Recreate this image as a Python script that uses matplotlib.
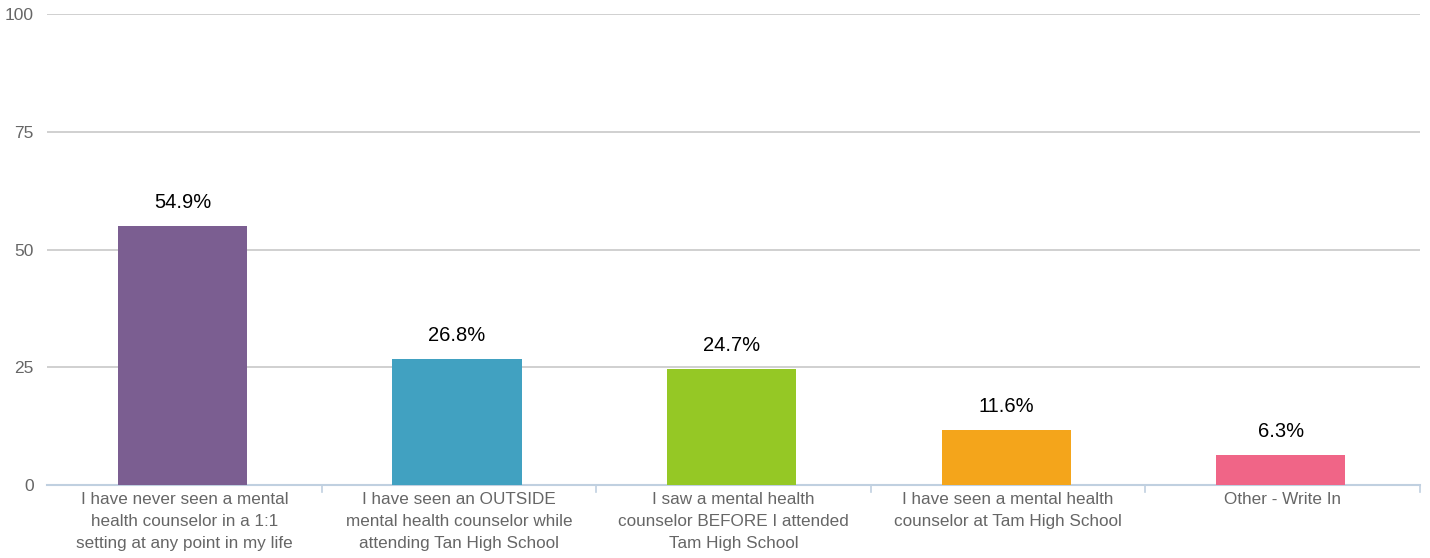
import matplotlib.pyplot as plt

# data
categories = [
    "I have never seen a mental\nhealth counselor in a 1:1\nsetting at any point in my life",
    "I have seen an OUTSIDE\nmental health counselor while\nattending Tan High School",
    "I saw a mental health\ncounselor BEFORE I attended\nTam High School",
    "I have seen a mental health\ncounselor at Tam High School",
    "Other - Write In",
]
values = [54.9, 26.8, 24.7, 11.6, 6.3]
colors = ["#7b5e91", "#41a1c1", "#95c825", "#f4a51b", "#f06587"]
yticks = [0, 25, 50, 75, 100]

plt.rcParams['font.family'] = ['Liberation Sans', 'DejaVu Sans']

fig = plt.figure(figsize=(14.3, 5.58), dpi=100)
ax = fig.add_axes([0.0329, 0.1308, 0.9601, 0.8441])

x = range(len(values))
ax.bar([i - 0.007 for i in x], values, width=0.47, color=colors, zorder=3)

# value labels
for i, v in enumerate(values):
    ax.text(i - 0.007, v + 3.0, f"{v}%", ha='center', va='bottom', fontsize=14.5, color='black')

ax.set_xlim(-0.5, len(values) - 0.5)
ax.set_ylim(0, 100)
ax.set_yticks(yticks)
ax.set_yticklabels([str(t) for t in yticks], fontsize=12.5, color='#666666')
ax.yaxis.grid(True, color='#c8c8c8', linewidth=1.2, zorder=0)

# category labels
ax.set_xticks(list(x))
ax.set_xticklabels(categories, fontsize=12.3, color='#666666', linespacing=1.6)
ax.tick_params(axis='x', length=0, pad=5)
ax.tick_params(axis='y', length=0, pad=9.5)

# boundary ticks
for b in range(1, len(values) + 1):
    ax.plot([b - 0.5, b - 0.5], [0, -1.5], color='#c0d0e0', linewidth=1.2, clip_on=False, zorder=2)

for side in ['top', 'right', 'left']:
    ax.spines[side].set_visible(False)
ax.spines['bottom'].set_color('#c0d0e0')
ax.spines['bottom'].set_linewidth(1.5)

fig.savefig('out.png', dpi=100)
